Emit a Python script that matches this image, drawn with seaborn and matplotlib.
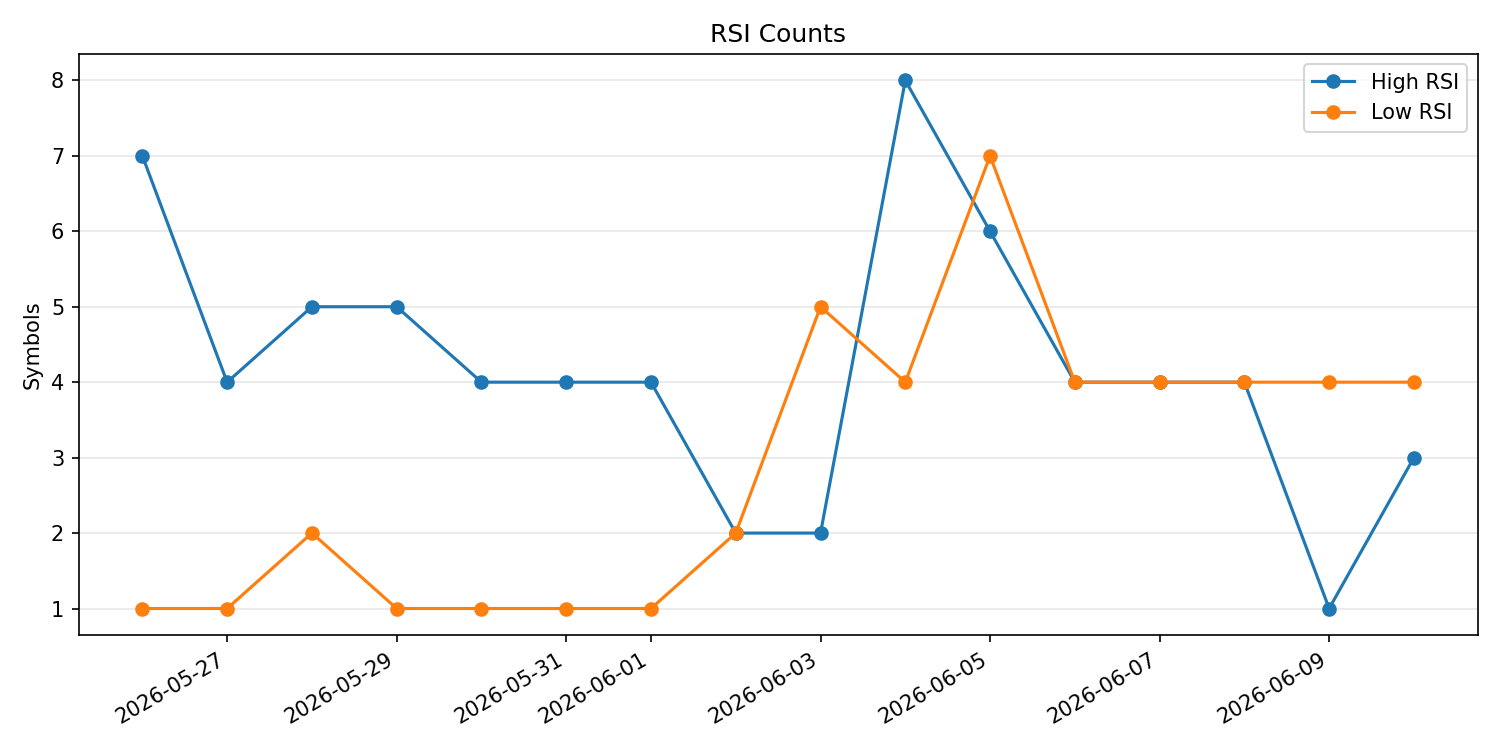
import pandas as pd
import matplotlib
matplotlib.use("Agg")
import matplotlib.pyplot as plt
import seaborn as sns

# ────────── data ───────────────────────────────────────────────────────────────
dates = pd.date_range("2026-05-26", "2026-06-10", freq="D")
high_rsi = [7, 4, 5, 5, 4, 4, 4, 2, 2, 8, 6, 4, 4, 4, 1, 3]
low_rsi = [1, 1, 2, 1, 1, 1, 1, 2, 5, 4, 7, 4, 4, 4, 4, 4]
series_names = ["High RSI", "Low RSI"]
colors = ["#1f77b4", "#ff7f0e"]


def main() -> None:
    df = pd.concat(
        [
            pd.DataFrame({"date": dates, "count": high_rsi, "series": series_names[0]}),
            pd.DataFrame({"date": dates, "count": low_rsi, "series": series_names[1]}),
        ],
        ignore_index=True,
    )

    fig, ax = plt.subplots(figsize=(10, 5), dpi=150)
    for name, color in zip(series_names, colors):
        sns.lineplot(
            data=df[df["series"] == name],
            x="date",
            y="count",
            color=color,
            marker="o",
            markersize=6,
            markeredgecolor=color,
            markeredgewidth=1,
            linewidth=1.5,
            label=name,
            ax=ax,
        )

    ax.set_title("RSI Counts")
    ax.set_ylabel("Symbols")
    ax.set_xlabel("")
    ax.grid(axis="y", alpha=0.3)
    ax.legend(loc="upper right")
    fig.autofmt_xdate()
    fig.tight_layout()
    fig.savefig("out.png", dpi=150)


if __name__ == "__main__":
    main()
